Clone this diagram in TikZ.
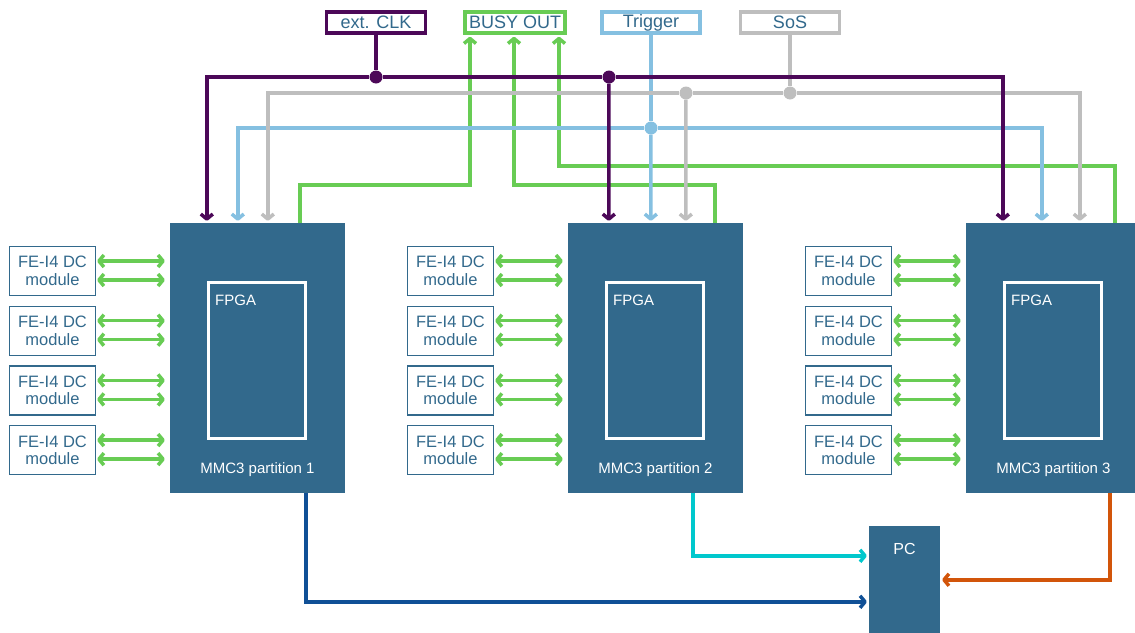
\documentclass[tikz,border=0pt]{standalone}
\usepackage{fontspec}
\setmainfont{Liberation Sans}
\usetikzlibrary{arrows.meta,positioning}
\definecolor{clkc}{RGB}{76,8,88}
\definecolor{busyc}{RGB}{104,204,84}
\definecolor{trgc}{RGB}{133,192,225}
\definecolor{sosc}{RGB}{190,190,190}
\definecolor{boxc}{RGB}{50,105,140}
\definecolor{outa}{RGB}{16,80,150}
\definecolor{outb}{RGB}{0,200,205}
\definecolor{outc}{RGB}{210,85,10}

\begin{document}
\begin{tikzpicture}
    [x=1pt,y=-1pt,
    sig/.style={draw,line width=3.5pt,fill=white,text=boxc,inner sep=0pt,minimum height=21pt,font=\fontsize{18}{18}\selectfont},
    mmc/.style={fill=boxc,minimum width=175pt,minimum height=270pt,inner sep=0pt},
    fpga/.style={draw=white,line width=3pt,minimum width=97pt,minimum height=156pt,inner sep=0pt},
    module/.style={draw=boxc,line width=1.3pt,text=boxc,minimum width=86pt,minimum height=49pt,inner sep=0pt,align=center,font=\fontsize{16.5}{17.5}\selectfont},
    lab/.style={text=white,inner sep=0pt,font=\fontsize{15}{15}\selectfont},
    wire/.style={line width=3.5pt},
    arr/.style={-{Straight Barb[length=5pt,width=12pt,line join=round]},shorten >=2pt},
    link/.style={{Straight Barb[length=5pt,width=12pt,line join=round]}-{Straight Barb[length=5pt,width=12pt,line join=round]},busyc,line width=3.5pt,shorten >=5pt,shorten <=1pt},
    dot/.style={circle,inner sep=0pt,minimum size=13pt}]
    \useasboundingbox (0,0) rectangle (1135,632);

    \foreach \p in {1,2,3}{
        \node[mmc] (mmc\p) at ({257.5+398*(\p-1)},358) {};
        \node[fpga] (fpga\p) at ({257+398*(\p-1)},360.5) {};
        \node[lab,anchor=north west] (fl\p) at ([xshift=8pt,yshift=-14pt]fpga\p.north west) {FPGA};
        \node[lab] (ml\p) at ([yshift=24pt]mmc\p.south) {MMC3 partition \p};
        \foreach \i in {1,...,4}{
            \node[module] (mod\p\i) at ({52.5+398*(\p-1)},{271+59.7*(\i-1)}) {FE-I4 DC\\module};
            \draw[link] ([yshift=10pt]mod\p\i.east) -- ([yshift=10pt]mod\p\i.east -| mmc\p.west);
            \draw[link] ([yshift=-9pt]mod\p\i.east) -- ([yshift=-9pt]mod\p\i.east -| mmc\p.west);
        }
    }
    \foreach \p/\a/\b/\c/\d/\e in {1/37/68/98/130/136, 2/41/83/118/147/125, 3/37/76/114/149/144}{
        \coordinate (clk\p) at ([xshift=\a pt]mmc\p.north west);
        \coordinate (trg\p) at ([xshift=\b pt]mmc\p.north west);
        \coordinate (sos\p) at ([xshift=\c pt]mmc\p.north west);
        \coordinate (busy\p) at ([xshift=\d pt]mmc\p.north west);
        \coordinate (out\p) at ([xshift=\e pt]mmc\p.south west);
    }

    \node[sig,draw=clkc,minimum width=99pt] (clk) at (376,22.5) {ext. CLK};
    \node[sig,draw=busyc,minimum width=100pt] (busy) at (515,22.5) {BUSY OUT};
    \node[sig,draw=trgc,minimum width=98pt] (trig) at (651,22.5) {Trigger};
    \node[sig,draw=sosc,minimum width=99pt] (sos) at (790,22.5) {SoS};

    \node[dot,fill=clkc] (cj1) at (376,77) {};
    \node[dot,fill=clkc] (cj2) at (609,77) {};
    \node[dot,fill=sosc] (sj1) at (686,93) {};
    \node[dot,fill=sosc] (sj2) at (790,93) {};
    \node[dot,fill=trgc] (tj) at (651,128) {};
    \coordinate (g1) at (470,185);
    \coordinate (g2) at (514,185);
    \coordinate (g3) at (559,166);

    \draw[wire,busyc,arr] (busy1) |- (g1) -- (g1 |- busy.south);
    \draw[wire,busyc,arr] (busy2) |- (g2) -- (g2 |- busy.south);
    \draw[wire,busyc,arr] (busy3) |- (g3) -- (g3 |- busy.south);

    \draw[wire,trgc] (trig) -- (tj);
    \draw[wire,trgc,arr] (tj) -- (trg2);
    \draw[wire,trgc,arr] (tj) -| (trg1);
    \draw[wire,trgc,arr] (tj) -| (trg3);

    \draw[wire,sosc] (sos) -- (sj2);
    \draw[wire,sosc,arr] (sj2) -| (sos3);
    \draw[wire,sosc] (sj2) -- (sj1);
    \draw[wire,sosc,arr] (sj1) -- (sos2);
    \draw[wire,sosc,arr] (sj1) -| (sos1);

    \draw[wire,clkc] (clk) -- (cj1);
    \draw[wire,clkc,arr] (cj1) -| (clk1);
    \draw[wire,clkc] (cj1) -- (cj2);
    \draw[wire,clkc,arr] (cj2) -- (clk2);
    \draw[wire,clkc,arr] (cj2) -| (clk3);

    \node[fill=boxc,minimum width=71pt,minimum height=120pt,inner sep=0pt] (pc) at (904.5,586) {};
    \node[lab,font=\fontsize{16}{16}\selectfont] (pcl) at ([yshift=-23pt]pc.north) {PC};
    \coordinate (pc1) at ([yshift=-76pt]pc.north west);
    \coordinate (pc2) at ([yshift=-30pt]pc.north west);
    \coordinate (pc3) at ([yshift=-54pt]pc.north east);
    \draw[wire,outa,arr] (out1) |- (pc1);
    \draw[wire,outb,arr] (out2) |- (pc2);
    \draw[wire,outc,arr] (out3) |- (pc3);
\end{tikzpicture}
\end{document}
